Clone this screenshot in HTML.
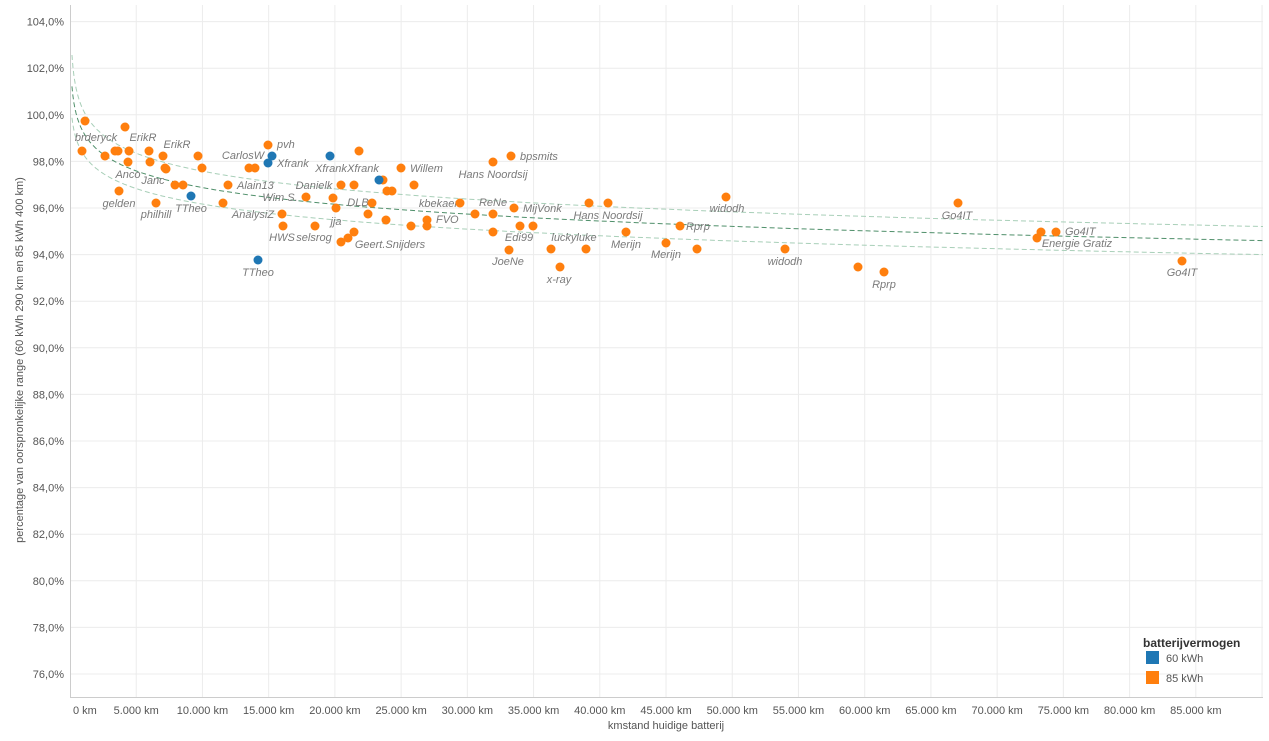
<!DOCTYPE html><html><head><meta charset="utf-8"><style>
body{margin:0;background:#fff;width:1269px;height:736px;overflow:hidden}
svg{font-family:"Liberation Sans",Arial,sans-serif}
.lab{font-size:11px;fill:#7a7a7a;font-style:italic}
.tk{font-size:11px;fill:#555}
</style></head><body>
<svg id="s" width="1269" height="736" xmlns="http://www.w3.org/2000/svg"></svg>
<script>
const s=document.getElementById('s');let h='';
const X=d=>70+d*0.013245, Y=v=>674-(v-76)*23.3;
for(let v=76;v<=104;v+=2){h+=`<line x1="70" x2="1263" y1="${Y(v)}" y2="${Y(v)}" stroke="#ececec"/>`;
h+=`<text class="tk" x="64" y="${Y(v)+4}" text-anchor="end">${v},0%</text>`;}
for(let d=5000;d<=90000;d+=5000){h+=`<line x1="${X(d)}" x2="${X(d)}" y1="5" y2="697" stroke="#ececec"/>`;}
for(let d=0;d<=85000;d+=5000){let t=(d==0?'0':(d/1000)+'.000')+' km';
h+=`<text class="tk" x="${d==0?73:X(d)}" y="714" text-anchor="${d==0?'start':'middle'}">${t}</text>`;}
h+=`<line x1="70.5" x2="70.5" y1="5" y2="697" stroke="#ccc"/><line x1="70" x2="1263" y1="697.5" y2="697.5" stroke="#ccc"/>`;
h+=`<text class="tk" x="666" y="729" text-anchor="middle">kmstand huidige batterij</text>`;
h+=`<text class="tk" transform="translate(23,360) rotate(-90)" text-anchor="middle">percentage van oorspronkelijke range (60 kWh 290 km en 85 kWh 400 km)</text>`;
let c='',u='',l='';const dmax=(1263-70)/0.013245;
for(let d=150;;d*=1.03){let last=false;if(d>=dmax){d=dmax;last=true;}let x=X(d);let y=211+24.1*Math.log(d/26400);let w=12+10*Math.pow(1000/d,0.35);
c+=(c?'L':'M')+x.toFixed(1)+','+y.toFixed(1);u+=(u?'L':'M')+x.toFixed(1)+','+(y-w).toFixed(1);l+=(l?'L':'M')+x.toFixed(1)+','+(y+w).toFixed(1);if(last)break;}
h+=`<path d="${u}" fill="none" stroke="#a8cfb8" stroke-dasharray="5,3"/><path d="${l}" fill="none" stroke="#a8cfb8" stroke-dasharray="5,3"/><path d="${c}" fill="none" stroke="#4f8f6a" stroke-dasharray="5,3"/>`;
const O=[[85,121],[82,151],[105,156],[115,151],[118,151],[125,127],[129,151],[128,162],[119,191],[149,151],[150,162],[163,156],[165,168],[166,169],[156,203],[175,185],[183,185],[198,156],[202,168],[223,203],[228,185],[249,168],[255,168],[268,145],[282,214],[283,226],[306,197],[315,226],[333,198],[336,208],[341,185],[341,242],[348,238],[354,185],[354,232],[359,151],[368,214],[372,203],[383,180],[387,191],[392,191],[386,220],[401,168],[411,226],[414,185],[427,220],[427,226],[460,203],[475,214],[493,162],[493,214],[493,232],[511,156],[509,250],[514,208],[520,226],[533,226],[551,249],[560,267],[586,249],[589,203],[608,203],[626,232],[666,243],[680,226],[697,249],[726,197],[785,249],[858,267],[884,272],[958,203],[1037,238],[1041,232],[1056,232],[1182,261]];
const B=[[191,196],[258,260],[268,163],[272,156],[330,156],[379,180]];
const L=[["brderyck",96,141,'m'],["ErikR",143,141,'m'],["ErikR",177,148,'m'],["Anco",128,178,'m'],["Janc",153,184,'m'],["gelden",119,207,'m'],["philhill",156,218,'m'],["TTheo",191,212,'m'],["CarlosW",243,159,'m'],["pvh",277,148,'s'],["Xfrank",277,167,'s'],["Xfrank",331,172,'m'],["Xfrank",363,172,'m'],["Alain13",237,189,'s'],["Wim S.",280,201,'m'],["AnalysiZ",253,218,'m'],["Danielk",314,189,'m'],["DLB",358,206,'m'],["Willem",410,172,'s'],["jja",336,225,'m'],["HWS",282,241,'m'],["selsrog",314,241,'m'],["Geert.Snijders",390,248,'m'],["FVO",436,223,'s'],["kbekaert",440,207,'m'],["Hans Noordsij",493,178,'m'],["bpsmits",520,160,'s'],["ReNe",493,206,'m'],["MijVonk",523,212,'s'],["Edi99",519,241,'m'],["JoeNe",508,265,'m'],["luckyluke",574,241,'m'],["x-ray",559,283,'m'],["Hans Noordsij",608,219,'m'],["widodh",727,212,'m'],["Merijn",626,248,'m'],["Merijn",666,258,'m'],["Rprp",686,230,'s'],["widodh",785,265,'m'],["Go4IT",957,219,'m'],["Rprp",884,288,'m'],["Go4IT",1065,235,'s'],["Energie Gratiz",1077,247,'m'],["Go4IT",1182,276,'m'],["TTheo",258,276,'m']];
for(const[t,x,y,a]of L)h+=`<text class="lab" x="${x}" y="${y}" text-anchor="${a=='m'?'middle':'start'}">${t}</text>`;
for(const[x,y]of O)h+=`<circle cx="${x}" cy="${y}" r="4.5" fill="#ff7f0e"/>`;
for(const[x,y]of B)h+=`<circle cx="${x}" cy="${y}" r="4.5" fill="#1f77b4"/>`;
h+=`<text x="1143" y="647" font-size="12" font-weight="bold" fill="#333">batterijvermogen</text>
<rect x="1146" y="651" width="13" height="13" fill="#1f77b4"/><text class="tk" x="1166" y="662">60 kWh</text>
<rect x="1146" y="671" width="13" height="13" fill="#ff7f0e"/><text class="tk" x="1166" y="682">85 kWh</text>`;
s.innerHTML=h;
</script></body></html>
